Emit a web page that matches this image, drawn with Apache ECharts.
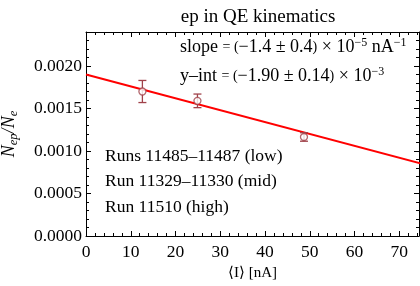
<!DOCTYPE html>
<html>
<head>
<meta charset="utf-8">
<script src="https://cdn.jsdelivr.net/npm/echarts@6/dist/echarts.min.js"></script>
<style>
  html, body { margin: 0; padding: 0; background: #fff; }
  #chart { width: 420px; height: 286px; }
</style>
</head>
<body>
<div id="chart"></div>
<script>
// measured points: mean beam current vs ratio, with error
const current = [12.6, 24.9, 48.7];
const ratio = [0.00170, 0.00159, 0.001165];
const ratioErr = [0.00013, 0.00008, 0.00005];

// fitted line, read at both ends of the axis
const fitX = [0, 75];
const fitY = [0.00190, 0.00085];

const xTicks = [0, 10, 20, 30, 40, 50, 60, 70];
const yTicks = ["0.0000", "0.0005", "0.0010", "0.0015", "0.0020"];

const runLabels = ["Runs 11485\u201311487 (low)", "Run 11329\u201311330 (mid)", "Run 11510 (high)"];

const FONT = "Liberation Serif";
const markColor = "#a0424a";

const chart = echarts.init(document.getElementById("chart"), null, { renderer: "canvas" });

const xBase = {
  type: "value",
  min: 0,
  max: 74.4,
  interval: 10,
  splitLine: { show: false },
  axisLine: { show: true, onZero: false, lineStyle: { color: "#000", width: 1 } },
  axisTick: { show: true, inside: true, length: 5, lineStyle: { color: "#000" } },
  minorTick: { show: true, splitNumber: 5, length: 3, lineStyle: { color: "#000" } },
};
const yBase = {
  type: "value",
  min: 0,
  max: 0.0024,
  interval: 0.0005,
  splitLine: { show: false },
  axisLine: { show: true, onZero: false, lineStyle: { color: "#000", width: 1 } },
  axisTick: { show: true, inside: true, length: 5, lineStyle: { color: "#000" } },
  minorTick: { show: true, splitNumber: 5, length: 3, lineStyle: { color: "#000" } },
};

const option = {
  animation: false,
  backgroundColor: "#fff",
  textStyle: { fontFamily: FONT },
  title: {
    text: "ep in QE kinematics",
    left: 253,
    top: 3,
    textAlign: "center",
    textStyle: { fontFamily: FONT, fontSize: 19, fontWeight: "normal", color: "#000" },
  },
  grid: { left: 86, right: 1, top: 32, bottom: 50, containLabel: false, outerBoundsMode: "none" },
  xAxis: [
    Object.assign({}, xBase, {
      position: "bottom",
      name: "\u27E8I\u27E9 [nA]",
      nameLocation: "middle",
      nameGap: 30,
      nameTextStyle: { fontFamily: FONT, fontSize: 15, color: "#000" },
      axisLabel: {
        fontFamily: FONT, fontSize: 17.5, color: "#000", margin: 7,
        formatter: (v) => (xTicks.includes(v) ? String(v) : ""),
      },
    }),
    Object.assign({}, xBase, { position: "top", axisLabel: { show: false } }),
  ],
  yAxis: [
    Object.assign({}, yBase, {
      position: "left",
      name: "{n|N}{s|ep}{n|/N}{s|e}",
      nameLocation: "middle",
      nameRotate: 90,
      nameGap: 66,
      nameTextStyle: {
        rich: {
          n: { fontFamily: FONT, fontSize: 18, fontStyle: "italic", color: "#000" },
          s: { fontFamily: FONT, fontSize: 12.5, fontStyle: "italic", color: "#000", padding: [8, 0, 0, 0] },
        },
      },
      axisLabel: {
        fontFamily: FONT, fontSize: 17.5, color: "#000", margin: 4,
        formatter: (v) => {
          const s = v.toFixed(4);
          return yTicks.includes(s) ? s : "";
        },
      },
    }),
    Object.assign({}, yBase, { position: "right", axisLabel: { show: false } }),
  ],
  graphic: [
    {
      type: "text", left: 180, top: 37,
      style: {
        text: "{t|slope }{s|= (}{t|\u22121.4 \u00B1 0.4}{s|)}{t| \u00D7 10}{u|\u22125}{t| nA}{u|\u22121}",
        rich: {
          t: { fontFamily: FONT, fontSize: 18, fill: "#000" },
          s: { fontFamily: FONT, fontSize: 14, fill: "#000" },
          u: { fontFamily: FONT, fontSize: 12, fill: "#000", padding: [0, 0, 9, 0] },
        },
      },
    },
    {
      type: "text", left: 180, top: 66,
      style: {
        text: "{t|y\u2013int }{s|= (}{t|\u22121.90 \u00B1 0.14}{s|)}{t| \u00D7 10}{u|\u22123}",
        rich: {
          t: { fontFamily: FONT, fontSize: 18, fill: "#000" },
          s: { fontFamily: FONT, fontSize: 14, fill: "#000" },
          u: { fontFamily: FONT, fontSize: 12, fill: "#000", padding: [0, 0, 9, 0] },
        },
      },
    },
  ].concat(runLabels.map((t, i) => ({
    type: "text", left: 105, top: 147 + i * 25.5,
    style: { text: t, fontFamily: FONT, fontSize: 17.5, fill: "#000" },
  }))),
  series: [
    {
      type: "line",
      data: fitX.map((x, i) => [x, fitY[i]]),
      symbol: "none",
      clip: true,
      lineStyle: { color: "#ff0000", width: 2 },
      z: 2,
    },
    {
      type: "custom",
      data: current.map((x, i) => [x, ratio[i] - ratioErr[i], ratio[i] + ratioErr[i]]),
      renderItem: (params, api) => {
        const lo = api.coord([api.value(0), api.value(1)]);
        const hi = api.coord([api.value(0), api.value(2)]);
        const w = 4;
        const st = { stroke: markColor, lineWidth: 1.3 };
        return {
          type: "group",
          children: [
            { type: "line", shape: { x1: lo[0], y1: lo[1], x2: hi[0], y2: hi[1] }, style: st },
            { type: "line", shape: { x1: lo[0] - w, y1: lo[1], x2: lo[0] + w, y2: lo[1] }, style: st },
            { type: "line", shape: { x1: hi[0] - w, y1: hi[1], x2: hi[0] + w, y2: hi[1] }, style: st },
          ],
        };
      },
      z: 3,
    },
    {
      type: "scatter",
      data: current.map((x, i) => [x, ratio[i]]),
      symbol: "circle",
      symbolSize: 7,
      itemStyle: { color: "#fff", borderColor: markColor, borderWidth: 1.3 },
      z: 4,
    },
  ],
};

chart.setOption(option);
</script>
</body>
</html>
